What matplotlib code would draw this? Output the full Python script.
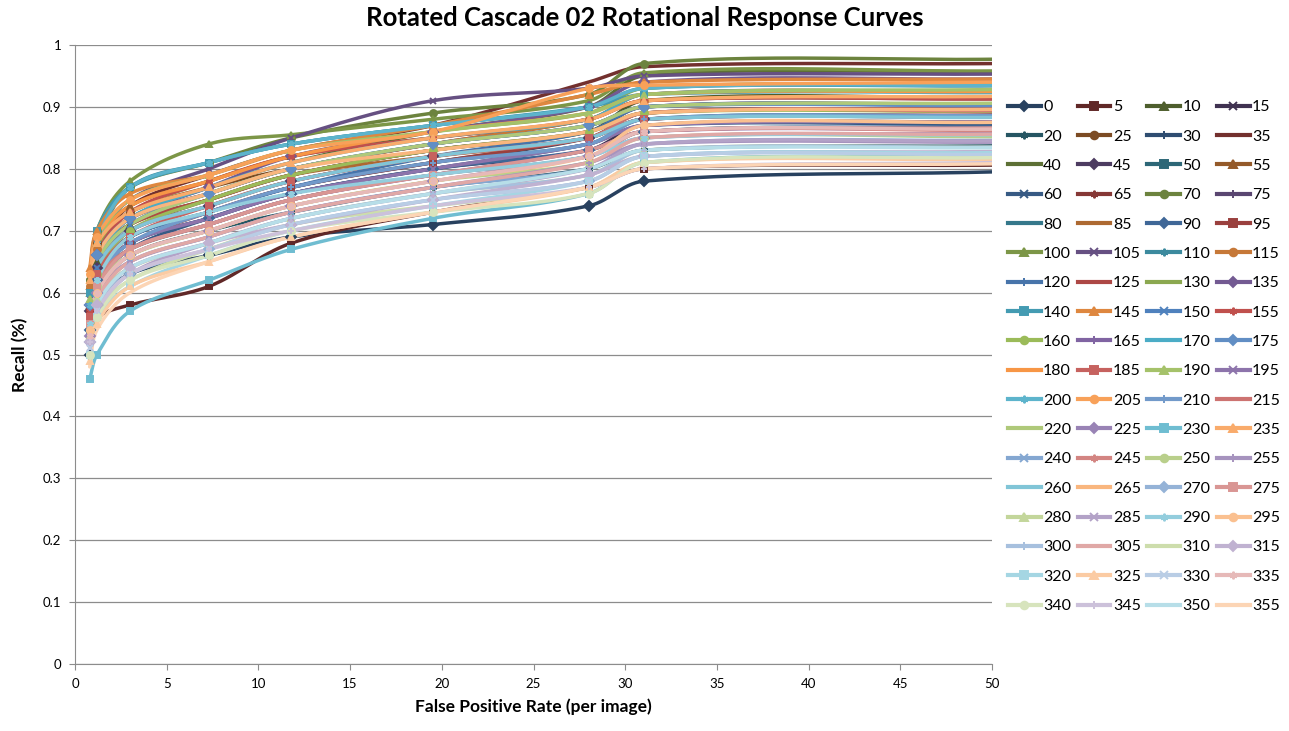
import numpy as np
import matplotlib.pyplot as plt
import matplotlib.colors as mcolors
from matplotlib.ticker import FuncFormatter

plt.rcParams['font.family'] = ['Lato', 'DejaVu Sans']

# false positive rate (per image) at each measured point
fpr = [0.8, 1.2, 3.0, 7.3, 11.8, 19.5, 28.0, 31.0, 50.0]

angles = list(range(0, 360, 5))

# recall per rotation angle
rec_0 = [0.50, 0.58, 0.63, 0.66, 0.69, 0.71, 0.74, 0.78, 0.795]
rec_5 = [0.53, 0.56, 0.58, 0.61, 0.68, 0.73, 0.77, 0.80, 0.806]
rec_10 = [0.58, 0.65, 0.71, 0.75, 0.79, 0.83, 0.86, 0.91, 0.915]
rec_15 = [0.55, 0.62, 0.68, 0.72, 0.76, 0.80, 0.83, 0.87, 0.876]
rec_20 = [0.52, 0.60, 0.66, 0.70, 0.73, 0.77, 0.80, 0.83, 0.837]
rec_25 = [0.62, 0.68, 0.73, 0.77, 0.80, 0.84, 0.87, 0.90, 0.905]
rec_30 = [0.56, 0.63, 0.69, 0.73, 0.77, 0.81, 0.85, 0.89, 0.895]
rec_35 = [0.60, 0.67, 0.74, 0.79, 0.83, 0.87, 0.94, 0.965, 0.970]
rec_40 = [0.59, 0.66, 0.72, 0.77, 0.81, 0.86, 0.90, 0.95, 0.957]
rec_45 = [0.57, 0.64, 0.70, 0.74, 0.78, 0.82, 0.85, 0.88, 0.884]
rec_50 = [0.54, 0.62, 0.67, 0.71, 0.75, 0.79, 0.82, 0.86, 0.865]
rec_55 = [0.61, 0.68, 0.74, 0.78, 0.82, 0.85, 0.88, 0.92, 0.925]
rec_60 = [0.53, 0.61, 0.67, 0.72, 0.76, 0.80, 0.84, 0.87, 0.872]
rec_65 = [0.58, 0.66, 0.72, 0.76, 0.80, 0.84, 0.88, 0.91, 0.913]
rec_70 = [0.62, 0.70, 0.77, 0.81, 0.85, 0.89, 0.92, 0.97, 0.977]
rec_75 = [0.56, 0.64, 0.70, 0.75, 0.79, 0.83, 0.86, 0.90, 0.903]
rec_80 = [0.55, 0.63, 0.69, 0.73, 0.77, 0.81, 0.84, 0.88, 0.886]
rec_85 = [0.60, 0.66, 0.71, 0.75, 0.79, 0.82, 0.85, 0.89, 0.893]
rec_90 = [0.54, 0.62, 0.68, 0.72, 0.76, 0.80, 0.83, 0.86, 0.868]
rec_95 = [0.57, 0.63, 0.68, 0.73, 0.77, 0.81, 0.85, 0.88, 0.887]
rec_100 = [0.60, 0.70, 0.78, 0.84, 0.855, 0.88, 0.91, 0.955, 0.958]
rec_105 = [0.59, 0.68, 0.75, 0.80, 0.85, 0.91, 0.93, 0.95, 0.953]
rec_110 = [0.58, 0.67, 0.77, 0.81, 0.84, 0.87, 0.90, 0.93, 0.934]
rec_115 = [0.61, 0.67, 0.72, 0.76, 0.80, 0.84, 0.88, 0.91, 0.915]
rec_120 = [0.55, 0.63, 0.69, 0.73, 0.77, 0.82, 0.86, 0.90, 0.902]
rec_125 = [0.57, 0.65, 0.71, 0.75, 0.79, 0.83, 0.86, 0.89, 0.897]
rec_130 = [0.59, 0.67, 0.73, 0.78, 0.82, 0.86, 0.89, 0.93, 0.936]
rec_135 = [0.58, 0.66, 0.72, 0.77, 0.82, 0.86, 0.90, 0.94, 0.945]
rec_140 = [0.60, 0.70, 0.77, 0.81, 0.84, 0.87, 0.90, 0.92, 0.925]
rec_145 = [0.64, 0.70, 0.76, 0.79, 0.83, 0.87, 0.92, 0.94, 0.945]
rec_150 = [0.56, 0.64, 0.71, 0.76, 0.80, 0.84, 0.87, 0.90, 0.905]
rec_155 = [0.57, 0.66, 0.73, 0.78, 0.82, 0.85, 0.88, 0.91, 0.913]
rec_160 = [0.55, 0.63, 0.70, 0.75, 0.79, 0.83, 0.86, 0.89, 0.893]
rec_165 = [0.54, 0.61, 0.67, 0.71, 0.75, 0.79, 0.83, 0.86, 0.864]
rec_170 = [0.57, 0.65, 0.72, 0.77, 0.81, 0.85, 0.88, 0.92, 0.923]
rec_175 = [0.58, 0.66, 0.72, 0.76, 0.80, 0.84, 0.87, 0.90, 0.902]
rec_180 = [0.61, 0.68, 0.74, 0.78, 0.82, 0.86, 0.89, 0.92, 0.925]
rec_185 = [0.56, 0.63, 0.69, 0.74, 0.78, 0.82, 0.85, 0.88, 0.884]
rec_190 = [0.59, 0.68, 0.75, 0.79, 0.83, 0.86, 0.89, 0.92, 0.928]
rec_195 = [0.55, 0.62, 0.68, 0.72, 0.76, 0.80, 0.84, 0.87, 0.876]
rec_200 = [0.58, 0.68, 0.77, 0.81, 0.84, 0.87, 0.90, 0.93, 0.935]
rec_205 = [0.63, 0.69, 0.75, 0.79, 0.83, 0.86, 0.93, 0.935, 0.940]
rec_210 = [0.54, 0.62, 0.68, 0.73, 0.77, 0.81, 0.84, 0.88, 0.886]
rec_215 = [0.56, 0.64, 0.70, 0.74, 0.78, 0.82, 0.85, 0.89, 0.894]
rec_220 = [0.57, 0.65, 0.71, 0.76, 0.80, 0.84, 0.87, 0.90, 0.906]
rec_225 = [0.53, 0.60, 0.66, 0.70, 0.74, 0.78, 0.82, 0.85, 0.857]
rec_230 = [0.46, 0.50, 0.57, 0.62, 0.67, 0.72, 0.76, 0.81, 0.820]
rec_235 = [0.62, 0.68, 0.73, 0.77, 0.81, 0.85, 0.88, 0.91, 0.917]
rec_240 = [0.52, 0.59, 0.65, 0.69, 0.73, 0.77, 0.80, 0.84, 0.846]
rec_245 = [0.55, 0.62, 0.67, 0.71, 0.75, 0.79, 0.82, 0.86, 0.862]
rec_250 = [0.54, 0.61, 0.66, 0.70, 0.74, 0.78, 0.81, 0.85, 0.852]
rec_255 = [0.53, 0.60, 0.65, 0.69, 0.73, 0.77, 0.81, 0.84, 0.843]
rec_260 = [0.56, 0.64, 0.70, 0.74, 0.78, 0.82, 0.85, 0.88, 0.883]
rec_265 = [0.59, 0.66, 0.72, 0.76, 0.80, 0.83, 0.86, 0.89, 0.896]
rec_270 = [0.52, 0.58, 0.63, 0.67, 0.71, 0.75, 0.78, 0.82, 0.826]
rec_275 = [0.55, 0.61, 0.67, 0.71, 0.75, 0.79, 0.83, 0.86, 0.866]
rec_280 = [0.53, 0.59, 0.64, 0.68, 0.72, 0.76, 0.79, 0.83, 0.835]
rec_285 = [0.51, 0.57, 0.63, 0.68, 0.72, 0.76, 0.80, 0.84, 0.845]
rec_290 = [0.55, 0.62, 0.69, 0.73, 0.76, 0.79, 0.82, 0.85, 0.855]
rec_295 = [0.54, 0.60, 0.66, 0.70, 0.74, 0.78, 0.82, 0.87, 0.875]
rec_300 = [0.52, 0.58, 0.64, 0.68, 0.72, 0.76, 0.79, 0.83, 0.835]
rec_305 = [0.53, 0.59, 0.65, 0.69, 0.73, 0.77, 0.81, 0.85, 0.856]
rec_310 = [0.51, 0.57, 0.62, 0.67, 0.71, 0.74, 0.77, 0.81, 0.818]
rec_315 = [0.52, 0.58, 0.64, 0.68, 0.71, 0.75, 0.79, 0.82, 0.828]
rec_320 = [0.50, 0.56, 0.61, 0.66, 0.70, 0.74, 0.78, 0.82, 0.826]
rec_325 = [0.49, 0.55, 0.61, 0.65, 0.69, 0.73, 0.77, 0.81, 0.815]
rec_330 = [0.51, 0.57, 0.63, 0.67, 0.71, 0.75, 0.78, 0.82, 0.823]
rec_335 = [0.53, 0.60, 0.66, 0.70, 0.74, 0.78, 0.82, 0.86, 0.864]
rec_340 = [0.50, 0.56, 0.62, 0.66, 0.70, 0.73, 0.76, 0.81, 0.818]
rec_345 = [0.52, 0.57, 0.63, 0.67, 0.70, 0.74, 0.77, 0.80, 0.810]
rec_350 = [0.51, 0.58, 0.64, 0.68, 0.72, 0.76, 0.80, 0.83, 0.834]
rec_355 = [0.48, 0.54, 0.60, 0.65, 0.69, 0.73, 0.77, 0.80, 0.808]

recalls = [globals()['rec_%d' % a] for a in angles]

# office 2007 theme colours and the marker cycle excel uses
base_colors = ['#4F81BD', '#C0504D', '#9BBB59', '#8064A2', '#4BACC6', '#F79646']
marker_cycle = ['D', 's', '^', 'x', (6, 2, 0), 'o', '+', None, None]


def series_style(i):
    base = np.array(mcolors.to_rgb(base_colors[i % 6]))
    t = -0.5 + (i // 6) * (1.1 / 11)
    if t < 0:
        col = base * (1 + t)
    else:
        col = base + (1 - base) * t
    return tuple(col), marker_cycle[i % 9]


fig = plt.figure(figsize=(12.89, 7.31), dpi=100)
ax = fig.add_axes([75 / 1289, 1 - 664 / 731, 917 / 1289, 619 / 731])
ax.set_xlim(0, 50)
ax.set_ylim(0, 1)

# excel style smoothed lines, worked out in screen space
bb = ax.get_window_extent()
sx = bb.width / 50.0
sy = bb.height / 1.0


def smooth(xs, ys, n=30):
    P = np.column_stack([np.array(xs) * sx, np.array(ys) * sy])
    P = np.vstack([P[0], P, P[-1]])
    out = []
    t = np.linspace(0, 1, n)[:, None]
    for k in range(1, len(P) - 2):
        p0, p1, p2, p3 = P[k - 1], P[k], P[k + 1], P[k + 2]
        seglen = np.hypot(*(p2 - p1))
        d1 = p2 - p0
        d2 = p3 - p1
        d1 = d1 / (np.hypot(*d1) or 1)
        d2 = d2 / (np.hypot(*d2) or 1)
        c1 = p1 + d1 * seglen / 3
        c2 = p2 - d2 * seglen / 3
        seg = ((1 - t) ** 3) * p1 + 3 * ((1 - t) ** 2) * t * c1 + 3 * (1 - t) * t ** 2 * c2 + t ** 3 * p2
        out.append(seg)
    out = np.vstack(out)
    return out[:, 0] / sx, out[:, 1] / sy


order = list(range(len(angles)))
order[35], order[36] = order[36], order[35]  # 175 and 180 swapped in the workbook

handles = []
for i, a in enumerate(angles):
    col, mk = series_style(order[i])
    cx, cy = smooth(fpr, recalls[i])
    ax.plot(cx, cy, color=col, lw=2.5, solid_capstyle='round', zorder=2)
    ax.plot(fpr[:-1], recalls[i][:-1], linestyle='none', marker=mk, color=col,
            markersize=5, markeredgewidth=1.4, zorder=3)
    h, = ax.plot([], [], color=col, lw=3, marker=mk, markersize=5.5,
                 markeredgewidth=1.4, label=str(a))
    handles.append(h)

ax.set_xticks(range(0, 51, 5))
ax.set_yticks(np.arange(0, 1.01, 0.1))
ax.yaxis.set_major_formatter(FuncFormatter(lambda v, p: '%g' % round(v, 1)))
ax.grid(axis='y', color='#8c8c8c', lw=0.9)
ax.set_axisbelow(True)
for s in ['top', 'right']:
    ax.spines[s].set_visible(False)
for s in ['left', 'bottom']:
    ax.spines[s].set_color('#8c8c8c')
ax.tick_params(direction='out', length=4, color='#8c8c8c', labelsize=9.5, pad=6)

ax.set_xlabel('False Positive Rate (per image)', fontsize=12.5, fontweight='bold', labelpad=6)
ax.set_ylabel('Recall (%)', fontsize=12.5, fontweight='bold', labelpad=10)
fig.text(0.5, 1 - 18 / 731, 'Rotated Cascade 02 Rotational Response Curves',
         ha='center', va='center', fontsize=18.5, fontweight='bold')

# legend reads row by row, 4 across
ncol = 4
nrow = len(handles) // ncol
leg_handles = [handles[r * ncol + c] for c in range(ncol) for r in range(nrow)]
fig.legend(handles=leg_handles, loc='upper left', bbox_to_anchor=(1008 / 1289, 1 - 100 / 731),
           ncol=ncol, frameon=False, fontsize=11.5, handlelength=2.05, handletextpad=0.15,
           columnspacing=0.4, labelspacing=0.95, borderaxespad=0, borderpad=0)

plt.savefig('out.png', dpi=100)
